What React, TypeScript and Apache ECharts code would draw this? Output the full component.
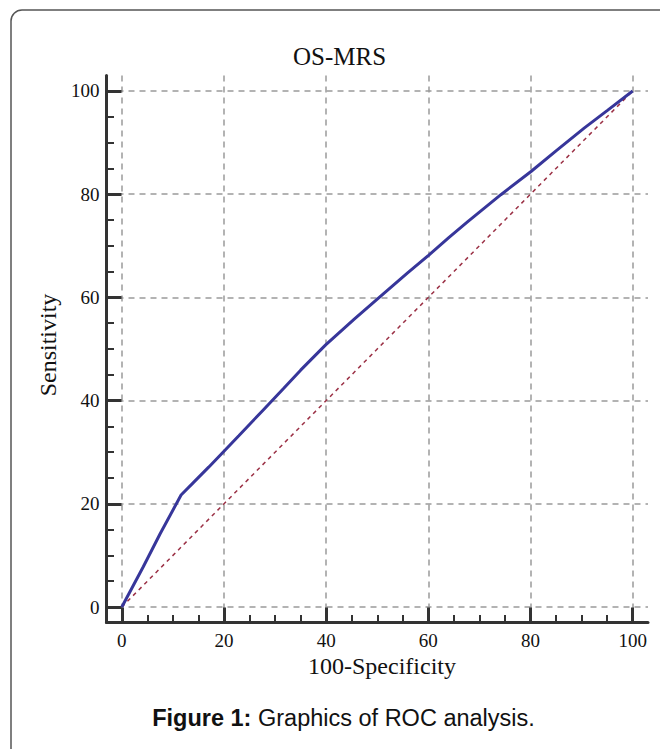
import React, { useEffect, useRef } from "react";
import * as echarts from "echarts";

const titleText = "OS-MRS";
const xName = "100-Specificity";
const yName = "Sensitivity";
const captionBold = "Figure 1:";
const captionRest = " Graphics of ROC analysis.";

const majorTicks = [0, 20, 40, 60, 80, 100];
const minorTicks = [5, 10, 15, 25, 30, 35, 45, 50, 55, 65, 70, 75, 85, 90, 95];

const rocX = [0, 4.2, 7.5, 11.6, 14, 17, 20, 22.9, 27.5, 31.7, 35, 39.9, 45.5, 51.3, 56, 60.1, 64, 67.6, 74.2, 80.1, 85, 90.5, 95, 100];
const rocY = [0, 7.8, 14.2, 21.7, 24.1, 27.1, 30.2, 33.2, 38.0, 42.4, 45.9, 50.8, 55.8, 60.8, 64.8, 68.2, 71.6, 74.6, 79.9, 84.4, 88.4, 92.8, 96.2, 100];

const refX = [0, 100];
const refY = [0, 100];

const SERIF = "'Liberation Serif', 'Times New Roman', serif";
const SANS = "'Liberation Sans', Arial, sans-serif";

export default function App() {
  const ref = useRef<HTMLDivElement>(null);

  useEffect(() => {
    document.body.style.margin = "0";
    if (!ref.current) return;
    const chart = echarts.init(ref.current, null, { renderer: "svg" });

    const axisColor = "#333333";
    const gridStyle = { type: [6, 5] as number[], color: "#9a9a9a", width: 1.5 };

    const mainAxis = (isX: boolean) => ({
      type: "value",
      min: -3,
      max: 103,
      position: isX ? "bottom" : "left",
      axisLine: { show: true, onZero: false, lineStyle: { color: axisColor, width: 3 } },
      axisTick: {
        show: true,
        inside: true,
        length: 15,
        customValues: majorTicks,
        lineStyle: { color: axisColor, width: 3 },
      },
      axisLabel: {
        show: true,
        customValues: majorTicks,
        fontFamily: SERIF,
        fontSize: 19,
        color: "#111",
        margin: isX ? 8 : 7,
      },
      splitLine: { show: true, lineStyle: gridStyle },
      name: isX ? xName : yName,
      nameLocation: "middle",
      nameGap: isX ? 30 : 46,
      nameRotate: isX ? 0 : 90,
      nameTextStyle: {
        fontFamily: SERIF,
        fontSize: 24,
        color: "#111",
        padding: isX ? [0, 0, 0, 9.5] : [0, 0, 0, 8],
      },
    });

    const minorAxis = (isX: boolean) => ({
      type: "value",
      min: -3,
      max: 103,
      position: isX ? "bottom" : "left",
      axisLine: { show: false, onZero: false },
      axisTick: {
        show: true,
        inside: true,
        length: 7.5,
        customValues: minorTicks,
        lineStyle: { color: axisColor, width: 2 },
      },
      axisLabel: { show: false },
      splitLine: { show: false },
    });

    chart.setOption({
      animation: false,
      backgroundColor: "#ffffff",
      grid: { left: 106.5, right: 12, top: 75.5, bottom: 126.5, containLabel: false },
      xAxis: [mainAxis(true), minorAxis(true)],
      yAxis: [mainAxis(false), minorAxis(false)],
      series: [
        {
          type: "line",
          xAxisIndex: 0,
          yAxisIndex: 0,
          data: refX.map((x, i) => [x, refY[i]]),
          showSymbol: false,
          lineStyle: { color: "#9b3045", width: 1.5, type: [4, 4] },
          z: 2,
          silent: true,
        },
        {
          type: "line",
          xAxisIndex: 0,
          yAxisIndex: 0,
          data: rocX.map((x, i) => [x, rocY[i]]),
          showSymbol: false,
          lineStyle: { color: "#37369a", width: 3 },
          z: 3,
          silent: true,
        },
      ],
      graphic: [
        {
          type: "rect",
          shape: { x: 11, y: 10, width: 720, height: 820, r: [11, 0, 0, 0] },
          style: { fill: "none", stroke: "#555", lineWidth: 1.5 },
          silent: true,
        },
        {
          type: "text",
          x: 339.5,
          y: 56,
          style: {
            text: titleText,
            font: `25px ${SERIF}`,
            fill: "#111",
            align: "center",
            verticalAlign: "middle",
          },
        },
        {
          type: "text",
          x: 343.5,
          y: 718,
          style: {
            text: `{b|${captionBold}}${captionRest}`,
            font: `23.5px ${SANS}`,
            fill: "#111",
            align: "center",
            verticalAlign: "middle",
            rich: {
              b: { fontWeight: "bold", fontFamily: SANS, fontSize: 23.5, fill: "#111" },
            },
          },
        },
      ],
    });

    return () => chart.dispose();
  }, []);

  return <div ref={ref} style={{ width: 660, height: 749 }} />;
}
